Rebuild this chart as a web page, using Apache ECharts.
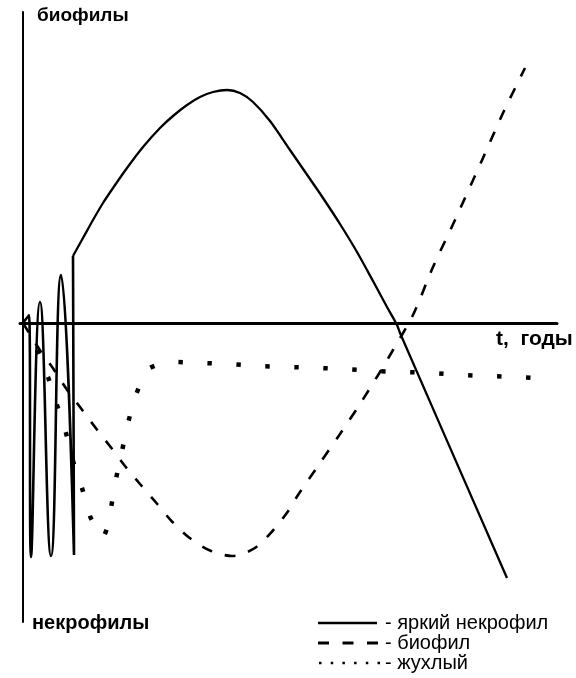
<!DOCTYPE html>
<html>
<head>
<meta charset="utf-8">
<script src="https://cdn.jsdelivr.net/npm/echarts@6/dist/echarts.min.js"></script>
<style>
  html, body { margin: 0; padding: 0; background: #fff; }
  #chart { width: 576px; height: 678px; }
</style>
</head>
<body>
<div id="chart"></div>
<script>
  // x — время (t), y — выше оси биофилы, ниже — некрофилы
  var brightOsc = [[0, 0], [6, 8], [8, -234], [17, 21], [28, -233], [38, 48], [51, -232], [50, 67]];
  var brightMain = [[50, 67], [60, 85], [70, 103], [80, 120], [90, 135], [104, 155], [120, 176],
    [137, 195], [150, 207], [164, 218], [177, 226], [190, 231], [204, 233], [217, 230],
    [230, 221], [247, 202], [267, 173], [287, 144], [300, 125], [317, 99], [334, 71], [350, 42],
    [364, 16], [374, -2], [377, -10], [484, -255]];
  var biophil = [[0, 0], [16.5, -26.5], [30.5, -46], [43.5, -66], [58.5, -86], [73.5, -106], [88, -124.5],
    [102, -143], [117, -161], [133, -179.5], [148.5, -198], [166, -214.5], [187, -227.5], [209, -233],
    [231, -225.5], [249.5, -208], [264.5, -189], [275, -172], [297, -140], [317, -111], [337, -81],
    [357, -49], [370, -27], [390, 8], [410, 56], [432, 103], [460, 165], [480, 210], [502, 255]];
  var zhukhly = [[14, -27], [25, -54], [34, -82], [43, -110], [50, -138], [59, -165], [67, -193],
    [74, -207], [80, -214], [85, -202], [88, -185], [93, -156], [99, -128], [105, -100], [113, -72],
    [119, -57], [125, -46], [137, -41], [150, -39], [179, -40], [207, -41], [235, -43], [265, -44],
    [294, -45], [322, -46], [352, -48], [382, -49], [410, -50], [439, -52], [467, -53], [495, -54],
    [524, -56]];
  var legendNames = ['- яркий некрофил', '- биофил', '- жухлый'];

  var chart = echarts.init(document.getElementById('chart'));

  var option = {
    animation: false,
    backgroundColor: '#fff',
    grid: { left: 20, right: 19, top: 12, bottom: 56 },
    xAxis: {
      type: 'value',
      min: -3,
      max: 534,
      axisLine: { onZero: true, lineStyle: { color: '#000', width: 3 } },
      axisTick: { show: false },
      axisLabel: { show: false },
      splitLine: { show: false }
    },
    yAxis: {
      type: 'value',
      min: -299,
      max: 311,
      axisLine: { show: true, onZero: true, lineStyle: { color: '#000', width: 2 } },
      axisTick: { show: false },
      axisLabel: { show: false },
      splitLine: { show: false }
    },
    series: [
      {
        type: 'line', data: brightOsc, smooth: 0.5, symbol: 'none',
        lineStyle: { color: '#000', width: 2.6 }
      },
      {
        type: 'line', data: brightMain, smooth: 0.3, symbol: 'none',
        lineStyle: { color: '#000', width: 2.3 }
      },
      {
        type: 'line', data: biophil, smooth: 0.3, symbol: 'none',
        lineStyle: { color: '#000', width: 2.6, type: [11, 13], cap: 'butt' }
      },
      {
        type: 'line', data: zhukhly, smooth: 0.2, symbol: 'none',
        lineStyle: { color: '#000', width: 4.5, type: [4.5, 24.5], cap: 'butt' }
      }
    ],
    graphic: [
      { type: 'text', x: 37, y: 16, style: { text: 'биофилы', font: 'bold 19px "Liberation Sans"', fill: '#000', textVerticalAlign: 'middle', verticalAlign: 'middle' } },
      { type: 'text', x: 32, y: 623, style: { text: 'некрофилы', font: 'bold 20px "Liberation Sans"', fill: '#000', textVerticalAlign: 'middle', verticalAlign: 'middle' } },
      { type: 'text', x: 496, y: 339, style: { text: 't,  годы', font: 'bold 21px "Liberation Sans"', fill: '#000', textVerticalAlign: 'middle', verticalAlign: 'middle' } },

      { type: 'line', shape: { x1: 318, y1: 623, x2: 377, y2: 623 }, style: { stroke: '#000', lineWidth: 2.3 } },
      { type: 'line', shape: { x1: 318, y1: 643, x2: 378, y2: 643 }, style: { stroke: '#000', lineWidth: 3, lineDash: [11, 13.5] } },
      { type: 'line', shape: { x1: 319, y1: 663, x2: 381, y2: 663 }, style: { stroke: '#000', lineWidth: 2.5, lineDash: [2.5, 9.2] } },
      { type: 'text', x: 385, y: 623, style: { text: legendNames[0], font: '20px "Liberation Sans"', fill: '#000', textVerticalAlign: 'middle', verticalAlign: 'middle' } },
      { type: 'text', x: 385, y: 643, style: { text: legendNames[1], font: '20px "Liberation Sans"', fill: '#000', textVerticalAlign: 'middle', verticalAlign: 'middle' } },
      { type: 'text', x: 385, y: 663, style: { text: legendNames[2], font: '20px "Liberation Sans"', fill: '#000', textVerticalAlign: 'middle', verticalAlign: 'middle' } }
    ]
  };

  chart.setOption(option);
</script>
</body>
</html>
